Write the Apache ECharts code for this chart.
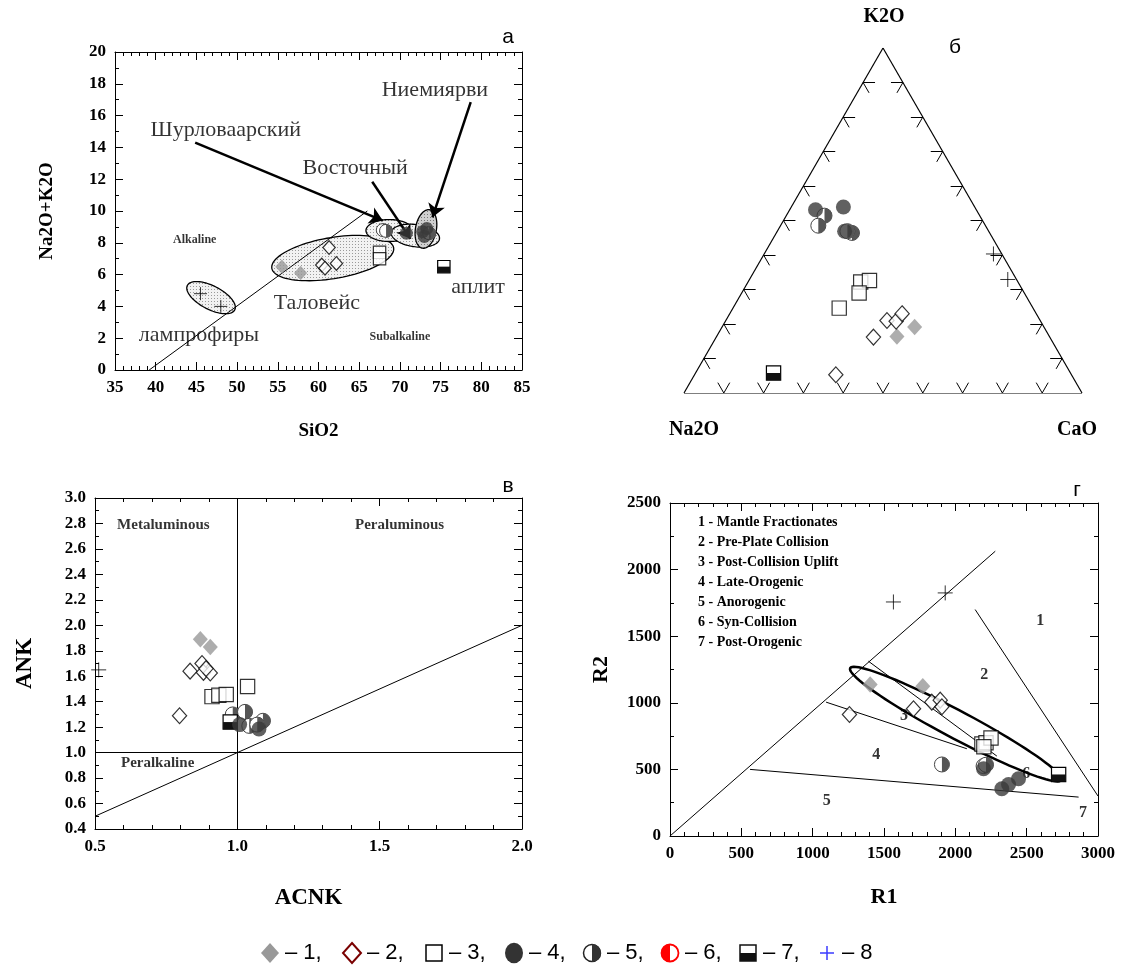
<!DOCTYPE html>
<html>
<head>
<meta charset="utf-8">
<script src="https://cdn.jsdelivr.net/npm/echarts@6/dist/echarts.min.js"></script>
<style>
  html, body { margin: 0; padding: 0; background: #fff; }
  #chart { width: 1121px; height: 967px; }
</style>
</head>
<body>
<div id="chart"></div>
<script>
// а: TAS (SiO2 vs Na2O+K2O)
const tas1 = [[55.5, 6.5], [57.8, 6.1]]
const tas2 = [[61.3, 7.7], [62.2, 6.7], [60.4, 6.6], [60.8, 6.4]]
const tas3 = [[67.5, 7.4], [67.5, 7.0]]
const tas4 = [[70.8, 8.6], [72.8, 8.7], [73.3, 8.9], [73.0, 8.4]]
const tas5 = [[67.9, 8.8], [68.3, 8.75], [73.6, 8.6]]
const tas7 = [[75.4, 6.5]]
const tas8 = [[45.5, 4.8], [48.0, 4.0]]
// fields: centre x, centre y, half-axis a (dx, dy), half-axis b (dx, dy)
const tasFields = [
  [46.8, 4.55, 2.9, -0.78, -0.7, -0.645],
  [61.75, 7.04, 7.48, 0.65, 0.456, -1.27],
  [68.7, 8.77, 2.87, 0, 0, 0.69],
  [71.9, 8.45, 2.96, -0.21, -0.21, -0.69]
]
const tasFieldsDark = [[73.2, 8.87, 0.42, 1.21, 1.27, -0.1]]
const tasDivider = [[39.2, 0], [66, 10]]
const tasArrows = [
  [[44.85, 14.3], [67.9, 9.4]],
  [[66.6, 11.84], [71.3, 8.25]],
  [[78.7, 16.85], [74.0, 9.6]]
]
const tasNames = [
  { name: 'Ниемиярви', value: [74.3, 17.6] },
  { name: 'Шурловаарский', value: [48.6, 15.1] },
  { name: 'Восточный', value: [64.5, 12.7] },
  { name: 'Таловейс', value: [59.8, 4.2] },
  { name: 'лампрофиры', value: [45.3, 2.2] },
  { name: 'аплит', value: [79.6, 5.2] }
]
const tasZones = [
  { name: 'Alkaline', value: [44.8, 8.2] },
  { name: 'Subalkaline', value: [70.0, 2.1] }
]

// б: ternary Na2O - K2O - CaO  ([Na2O, K2O, CaO], %)
const tern1 = [[38.3, 16.4, 45.3], [32.5, 19.1, 48.4]]
const tern2 = [[38.5, 21.0, 40.5], [36.3, 20.8, 42.9], [33.7, 23.0, 43.3], [44.3, 16.2, 39.5], [59.2, 5.3, 35.5]]
const tern3 = [[39.5, 32.2, 28.3], [37.1, 32.6, 30.3], [41.5, 29.0, 29.5], [48.7, 24.6, 26.7]]
const tern4 = [[40.4, 53.1, 6.5], [33.0, 53.9, 13.1], [36.2, 46.9, 16.9]]
const tern5 = [[39.0, 51.4, 9.6], [42.0, 48.5, 9.5], [34.6, 46.4, 19.0], [35.5, 46.9, 17.6]]
const tern7 = [[74.6, 5.8, 19.6]]
const tern8 = [[2.1, 40.3, 57.6], [2.2, 32.9, 64.9]]
const ternTicks = [10, 20, 30, 40, 50, 60, 70, 80, 90]

// в: ACNK vs ANK
const acnk1 = [[0.87, 1.89], [0.905, 1.83]]
const acnk2 = [[0.834, 1.64], [0.876, 1.7], [0.881, 1.63], [0.905, 1.625], [0.89, 1.66], [0.797, 1.29]]
const acnk3 = [[0.911, 1.44], [0.935, 1.45], [0.961, 1.456], [1.036, 1.52]]
const acnk4 = [[1.008, 1.22], [1.076, 1.186]]
const acnk5 = [[0.984, 1.3], [1.027, 1.32], [1.09, 1.25], [1.042, 1.21], [1.07, 1.22]]
const acnk7 = [[0.975, 1.24]]
const acnk8 = [[0.513, 1.65]]
const acnkLines = [
  [[1, 0.4], [1, 3.0]],
  [[0.5, 1], [2.0, 1]],
  [[0.5, 0.5], [2.0, 2.0]]
]
const acnkZones = [
  { name: 'Metaluminous', value: [0.74, 2.79] },
  { name: 'Peraluminous', value: [1.57, 2.79] },
  { name: 'Peralkaline', value: [0.72, 0.92] }
]

// г: R1 vs R2
const r1 = [[1403, 1137], [1772, 1125]]
const r2 = [[1258, 912], [1707, 955], [1835, 1005], [1894, 1020], [1906, 970]]
const r3 = [[2186, 690], [2215, 700], [2250, 735], [2200, 670]]
const r4 = [[2326, 355], [2373, 387], [2443, 430], [2198, 505]]
const r5 = [[1906, 537], [2198, 525], [2215, 535]]
const r7 = [[2724, 462]]
const r8 = [[1566, 1757], [1929, 1825]]
const rLines = [
  [[0, 0], [2280, 2138]],
  [[2139, 1700], [3000, 300]],
  [[561, 500], [2864, 292]],
  [[1094, 1005], [2081, 655]],
  [[1391, 1312], [2291, 600]]
]
const rField = [[2003, 840, 740, -420, -46, -92]]
const rZones = [
  { name: '1', value: [2595, 1612] },
  { name: '2', value: [2202, 1212] },
  { name: '3', value: [1641, 905] },
  { name: '4', value: [1445, 612] },
  { name: '5', value: [1099, 267] },
  { name: '6', value: [2497, 470] },
  { name: '7', value: [2895, 175] }
]
const rLegend = [
  '1 - Mantle Fractionates',
  '2 - Pre-Plate Collision',
  '3 - Post-Collision Uplift',
  '4 - Late-Orogenic',
  '5 - Anorogenic',
  '6 - Syn-Collision',
  '7 - Post-Orogenic'
]

const legendLabels = ['– 1,', '– 2,', '– 3,', '– 4,', '– 5,', '– 6,', '– 7,', '– 8']

const SERIF = 'Liberation Serif'
const SANS = 'Liberation Sans'
const SQ = Math.sqrt(3) / 2

function tern(d) {
  const s = d[0] + d[1] + d[2]
  const k = d[1] / s
  const ca = d[2] / s
  return [ca + k / 2, k * SQ]
}

function dots(bg, dot) {
  const c = document.createElement('canvas')
  c.width = 3
  c.height = 3
  const g = c.getContext('2d')
  g.fillStyle = bg
  g.fillRect(0, 0, 3, 3)
  g.fillStyle = dot
  g.fillRect(1, 1, 1, 1)
  return { image: c, repeat: 'repeat' }
}

function ellipseSeries(xi, yi, data, style) {
  return {
    type: 'custom', xAxisIndex: xi, yAxisIndex: yi, data: data, silent: true, z: 2,
    renderItem: function (params, api) {
      const v = [0, 1, 2, 3, 4, 5].map(i => api.value(i))
      const pts = []
      for (let i = 0; i < 90; i++) {
        const t = i / 90 * Math.PI * 2
        pts.push(api.coord([
          v[0] + v[2] * Math.cos(t) + v[4] * Math.sin(t),
          v[1] + v[3] * Math.cos(t) + v[5] * Math.sin(t)
        ]))
      }
      return { type: 'polygon', shape: { points: pts }, style: style }
    }
  }
}

function segSeries(xi, yi, segs, width, arrow) {
  return {
    type: 'lines', coordinateSystem: 'cartesian2d', xAxisIndex: xi, yAxisIndex: yi, silent: true, z: 3,
    symbol: arrow ? ['none', 'arrow'] : 'none', symbolSize: 13,
    lineStyle: { color: '#000', width: width, opacity: 1 },
    data: segs.map(s => ({ coords: s }))
  }
}

function textSeries(xi, yi, items, font) {
  return {
    type: 'scatter', xAxisIndex: xi, yAxisIndex: yi, data: items, symbolSize: 0, silent: true, z: 4,
    itemStyle: { color: 'transparent' },
    label: Object.assign({ show: true, position: 'inside', formatter: p => p.name, color: '#000', fontFamily: SERIF }, font)
  }
}

function markers(xi, yi, s, d) {
  const ax = { xAxisIndex: xi, yAxisIndex: yi, silent: true, z: 6 }
  const list = []
  list.push(Object.assign({ type: 'scatter', data: d[0], symbol: 'diamond', symbolSize: [s, s * 1.1],
    itemStyle: { color: '#999' } }, ax))
  list.push(Object.assign({ type: 'scatter', data: d[1], symbol: 'diamond', symbolSize: [s * 0.95, s * 1.05],
    itemStyle: { color: '#fff', borderColor: '#000', borderWidth: 1.2 } }, ax))
  list.push(Object.assign({ type: 'scatter', data: d[2], symbol: 'rect', symbolSize: s * 0.95,
    itemStyle: { color: '#fff', borderColor: '#000', borderWidth: 1.2 } }, ax))
  list.push(Object.assign({ type: 'scatter', data: d[3], symbol: 'circle', symbolSize: s,
    itemStyle: { color: '#3a3a3a' } }, ax))
  list.push(Object.assign({ type: 'custom', data: d[4], renderItem: function (params, api) {
    const p = api.coord([api.value(0), api.value(1)])
    const r = s / 2
    return { type: 'group', children: [
      { type: 'circle', shape: { cx: p[0], cy: p[1], r: r }, style: { fill: '#fff', stroke: '#444', lineWidth: 1 } },
      { type: 'sector', shape: { cx: p[0], cy: p[1], r: r, startAngle: -Math.PI / 2, endAngle: Math.PI / 2 }, style: { fill: '#555' } }
    ] }
  } }, ax))
  list.push(Object.assign({ type: 'custom', data: d[5], renderItem: function (params, api) {
    const p = api.coord([api.value(0), api.value(1)])
    const w = s * 0.95
    return { type: 'group', children: [
      { type: 'rect', shape: { x: p[0] - w / 2, y: p[1] - w / 2, width: w, height: w }, style: { fill: '#fff', stroke: '#000', lineWidth: 1.2 } },
      { type: 'rect', shape: { x: p[0] - w / 2, y: p[1], width: w, height: w / 2 }, style: { fill: '#111' } }
    ] }
  } }, ax))
  list.push(Object.assign({ type: 'scatter', data: d[6], symbol: 'path://M0,8L16,8M8,0L8,16', symbolSize: s,
    itemStyle: { color: 'transparent', borderColor: '#000', borderWidth: 1 } }, ax))
  return list
}

const tickFont = { fontFamily: SERIF, fontWeight: 'bold', fontSize: 17, color: '#000' }
const nameFont = { fontFamily: SERIF, fontWeight: 'bold', color: '#000' }

function boxAxes(gi, dim, cfg) {
  const pos = dim === 'x' ? ['bottom', 'top'] : ['left', 'right']
  return pos.map((p, i) => ({
    gridIndex: gi, type: 'value', position: p, min: cfg.min, max: cfg.max, interval: cfg.interval,
    axisLine: { show: true, onZero: false, lineStyle: { color: '#000', width: 1 } },
    axisTick: { show: true, inside: true, length: 8, lineStyle: { color: '#000' } },
    minorTick: { show: true, splitNumber: cfg.minor, length: 4, lineStyle: { color: '#000' } },
    splitLine: { show: false },
    axisLabel: Object.assign({ show: i === 0, margin: 9, formatter: cfg.fmt || (v => String(v)) }, tickFont),
    name: i === 0 ? cfg.name : '',
    nameLocation: 'middle', nameGap: cfg.gap,
    nameTextStyle: Object.assign({ fontSize: cfg.nameSize }, nameFont)
  }))
}

const xAxes = [].concat(
  boxAxes(0, 'x', { min: 35, max: 85, interval: 5, minor: 5, name: 'SiO2', gap: 52, nameSize: 19 }),
  [{ gridIndex: 1, type: 'value', min: 0, max: 1, show: false }],
  boxAxes(2, 'x', { min: 0.5, max: 2.0, interval: 0.5, minor: 5, name: 'ACNK', gap: 58, nameSize: 23, fmt: v => v.toFixed(1) }),
  boxAxes(3, 'x', { min: 0, max: 3000, interval: 500, minor: 5, name: 'R1', gap: 50, nameSize: 22 })
)
const yAxes = [].concat(
  boxAxes(0, 'y', { min: 0, max: 20, interval: 2, minor: 2, name: 'Na2O+K2O', gap: 58, nameSize: 19 }),
  [{ gridIndex: 1, type: 'value', min: 0, max: SQ, show: false }],
  boxAxes(2, 'y', { min: 0.4, max: 3.0, interval: 0.2, minor: 2, name: 'ANK', gap: 58, nameSize: 23, fmt: v => v.toFixed(1) }),
  boxAxes(3, 'y', { min: 0, max: 2500, interval: 500, minor: 2, name: 'R2', gap: 58, nameSize: 22 })
)

// ternary frame and ticks
const ternFrame = [[100, 0, 0], [0, 100, 0], [0, 0, 100]]
const frameSegs = ternFrame.map((p, i) => [tern(p), tern(ternFrame[(i + 1) % 3])])
const L = 0.03
const tickSegs = []
ternTicks.forEach(t => {
  const b = tern([100 - t, 0, t])
  tickSegs.push([b, [b[0] - L / 2, b[1] + L * SQ]], [b, [b[0] + L / 2, b[1] + L * SQ]])
  const l = tern([100 - t, t, 0])
  tickSegs.push([l, [l[0] + L, l[1]]], [l, [l[0] + L / 2, l[1] - L * SQ]])
  const r = tern([0, t, 100 - t])
  tickSegs.push([r, [r[0] - L, r[1]]], [r, [r[0] - L / 2, r[1] - L * SQ]])
})

const series = [].concat(
  [
    ellipseSeries(0, 0, tasFields, { fill: dots('#f2f2f2', '#9a9a9a'), stroke: '#000', lineWidth: 1.3 }),
    ellipseSeries(0, 0, tasFieldsDark, { fill: dots('#cfcfcf', '#777'), stroke: '#000', lineWidth: 1.3 }),
    segSeries(0, 0, [tasDivider], 1, false),
    segSeries(0, 0, tasArrows, 2.5, true),
    textSeries(0, 0, tasNames, { fontSize: 22 }),
    textSeries(0, 0, tasZones, { fontSize: 12, fontWeight: 'bold' })
  ],
  markers(0, 0, 13, [tas1, tas2, tas3, tas4, tas5, tas7, tas8]),
  [
    segSeries(2, 2, frameSegs, 1.2, false),
    segSeries(2, 2, tickSegs, 1, false)
  ],
  markers(2, 2, 15, [tern1, tern2, tern3, tern4, tern5, tern7, tern8].map(a => a.map(tern))),
  [
    segSeries(3, 3, acnkLines, 1, false),
    textSeries(3, 3, acnkZones, { fontSize: 15, fontWeight: 'bold' })
  ],
  markers(3, 3, 15, [acnk1, acnk2, acnk3, acnk4, acnk5, acnk7, acnk8]),
  [
    segSeries(5, 5, rLines, 1, false),
    ellipseSeries(5, 5, rField, { fill: 'none', stroke: '#000', lineWidth: 2.5 }),
    textSeries(5, 5, rZones, { fontSize: 16, fontWeight: 'bold' })
  ],
  markers(5, 5, 15, [r1, r2, r3, r4, r5, r7, r8])
)

// bottom legend
const legendIcons = [
  c => ({ type: 'polygon', shape: { points: [[c, 943], [c + 9, 953], [c, 963], [c - 9, 953]] }, style: { fill: '#999' } }),
  c => ({ type: 'polygon', shape: { points: [[c, 943], [c + 9, 953], [c, 963], [c - 9, 953]] }, style: { fill: '#fff', stroke: '#7a0000', lineWidth: 2 } }),
  c => ({ type: 'rect', shape: { x: c - 8, y: 945, width: 16, height: 16 }, style: { fill: '#fff', stroke: '#000', lineWidth: 1.5 } }),
  c => ({ type: 'circle', shape: { cx: c, cy: 953, r: 9 }, scaleY: 1.15, originY: 953, style: { fill: '#333' } }),
  c => ({ type: 'group', children: [
    { type: 'circle', shape: { cx: c, cy: 953, r: 8.5 }, style: { fill: '#fff', stroke: '#222', lineWidth: 1.5 } },
    { type: 'sector', shape: { cx: c, cy: 953, r: 9, startAngle: -Math.PI / 2, endAngle: Math.PI / 2 }, style: { fill: '#333' } }
  ] }),
  c => ({ type: 'group', children: [
    { type: 'circle', shape: { cx: c, cy: 953, r: 8.5 }, style: { fill: '#fff', stroke: '#f00', lineWidth: 1.8 } },
    { type: 'sector', shape: { cx: c, cy: 953, r: 9, startAngle: Math.PI / 2, endAngle: Math.PI * 3 / 2 }, style: { fill: '#f00' } }
  ] }),
  c => ({ type: 'group', children: [
    { type: 'rect', shape: { x: c - 8, y: 945, width: 16, height: 16 }, style: { fill: '#fff', stroke: '#111', lineWidth: 1.5 } },
    { type: 'rect', shape: { x: c - 8, y: 953, width: 16, height: 8 }, style: { fill: '#111' } }
  ] }),
  c => ({ type: 'group', children: [
    { type: 'line', shape: { x1: c - 7, y1: 953, x2: c + 7, y2: 953 }, style: { stroke: '#3a3aff', lineWidth: 1.5 } },
    { type: 'line', shape: { x1: c, y1: 946, x2: c, y2: 960 }, style: { stroke: '#3a3aff', lineWidth: 1.5 } }
  ] })
]
const legendX = [270, 352, 434, 514, 592, 670, 748, 827]
const graphics = []
legendLabels.forEach((t, i) => {
  graphics.push(legendIcons[i](legendX[i]))
  graphics.push({ type: 'text', x: legendX[i] + 15, y: 953, style: { text: t, fontFamily: SANS, fontSize: 22, fill: '#000', verticalAlign: 'middle' } })
})
;[['а', 508, 37], ['б', 955, 47], ['в', 508, 486], ['г', 1077, 490]].forEach(p => {
  graphics.push({ type: 'text', x: p[1], y: p[2], style: { text: p[0], fontFamily: SANS, fontSize: 21, fill: '#000', align: 'center', verticalAlign: 'middle' } })
})
;[['K2O', 884, 17], ['Na2O', 694, 430], ['CaO', 1077, 430]].forEach(p => {
  graphics.push({ type: 'text', x: p[1], y: p[2], style: { text: p[0], fontFamily: SERIF, fontWeight: 'bold', fontSize: 20, fill: '#000', align: 'center', verticalAlign: 'middle' } })
})
graphics.push({ type: 'text', x: 698, y: 512, style: { text: rLegend.join('\n'), fontFamily: SERIF, fontWeight: 'bold', fontSize: 14, lineHeight: 20, fill: '#000' } })

const chart = echarts.init(document.getElementById('chart'))
chart.setOption({
  animation: false,
  backgroundColor: '#fff',
  grid: [
    { left: 115, top: 52, width: 407, height: 318 },
    { left: 684, top: 48, width: 398, height: 345 },
    { left: 95, top: 498, width: 427, height: 331 },
    { left: 670, top: 503, width: 428, height: 333 }
  ],
  xAxis: xAxes,
  yAxis: yAxes,
  series: series,
  graphic: graphics
})
</script>
</body>
</html>
